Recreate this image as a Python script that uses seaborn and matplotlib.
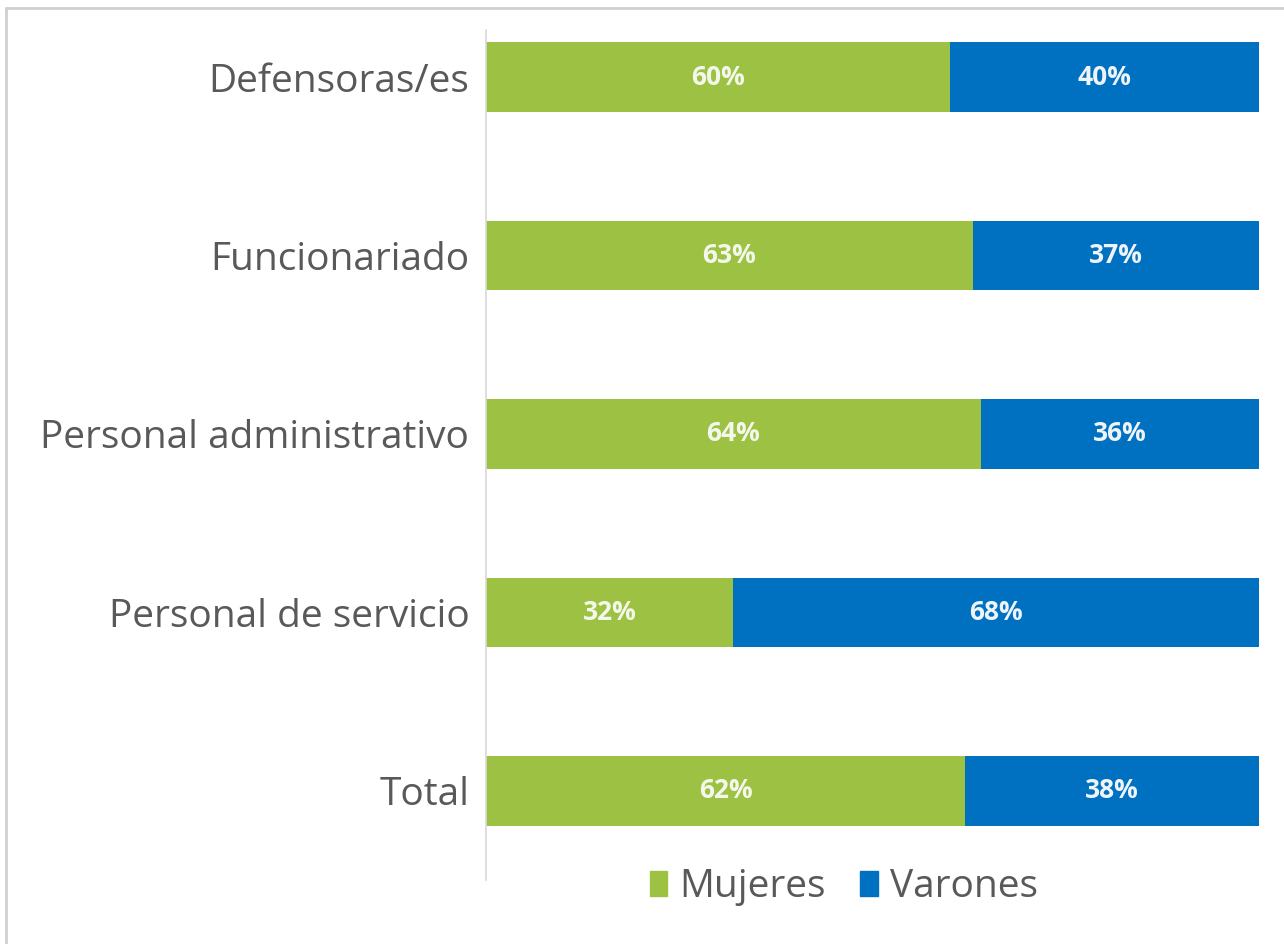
import numpy as np
import matplotlib
matplotlib.use('Agg')
import matplotlib.pyplot as plt
import seaborn as sns
from matplotlib.patches import Patch
from matplotlib.lines import Line2D

# data
categories = ['Defensoras/es', 'Funcionariado', 'Personal administrativo',
              'Personal de servicio', 'Total']
mujeres = [60, 63, 64, 32, 62]
varones = [40, 37, 36, 68, 38]

GREEN = '#9DC243'
BLUE = '#0070C0'
TEXT = '#595959'

sns.set_style('white')
plt.rcParams['font.family'] = ['Open Sans', 'DejaVu Sans']

fig = plt.figure(figsize=(12.84, 9.44), dpi=100)
ax = fig.add_axes([0.3785, 0.0678, 0.602, 0.9002])

totals = np.array(mujeres) + np.array(varones)
# stacked: full bar in blue, then green on top
sns.barplot(x=totals, y=categories, color=BLUE, orient='h', width=0.39,
            saturation=1, linewidth=0, ax=ax)
sns.barplot(x=mujeres, y=categories, color=GREEN, orient='h', width=0.39,
            saturation=1, linewidth=0, ax=ax)

for i, (m, v) in enumerate(zip(mujeres, varones)):
    ax.text(m / 2, i, f'{m}%', ha='center', va='center', color='#F4F8EC',
            fontsize=19, fontweight='bold')
    ax.text(m + v / 2, i, f'{v}%', ha='center', va='center', color='#EEF4FA',
            fontsize=19, fontweight='bold')

ax.set_xlim(0, 100)
ax.set_ylim(4.5, -0.263)
ax.set_xlabel('')
ax.set_ylabel('')
ax.set_xticks([])
ax.tick_params(axis='y', length=0, pad=12, labelsize=28, labelcolor=TEXT)
for s in ['top', 'right', 'bottom']:
    ax.spines[s].set_visible(False)
ax.spines['left'].set_color('#D9D9D9')
ax.spines['left'].set_linewidth(1.2)

handles = [Patch(color=GREEN, label='Mujeres'), Patch(color=BLUE, label='Varones')]
fig.legend(handles=handles, loc='center', bbox_to_anchor=(0.657, 0.06), ncol=2,
           frameon=False, fontsize=28, labelcolor=TEXT, handlelength=0.45,
           handleheight=0.6, handletextpad=0.3, columnspacing=0.9)

# outer frame lines (top and left)
fig.add_artist(Line2D([0.005, 1], [0.9915, 0.9915], color='#D0D0D0', lw=2,
                      transform=fig.transFigure))
fig.add_artist(Line2D([0.005, 0.005], [0, 0.9915], color='#D0D0D0', lw=2,
                      transform=fig.transFigure))

fig.savefig('out.png', dpi=100, facecolor='white')
